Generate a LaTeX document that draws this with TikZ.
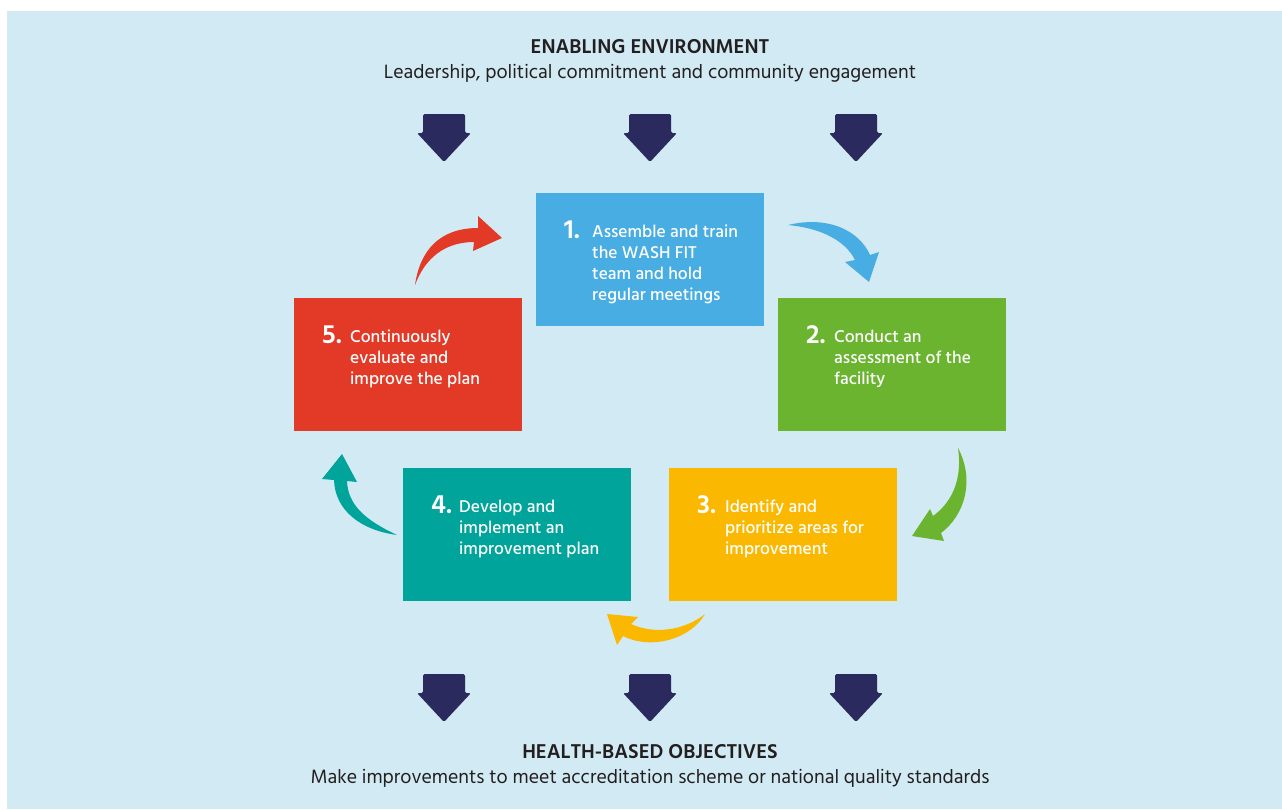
\documentclass[tikz,border=0pt]{standalone}
\usepackage{fontspec}
\setmainfont{Hind Madurai}[UprightFont=* Medium, BoldFont=* SemiBold]
\newfontfamily\plainfont{Hind Madurai}
\newfontfamily\numfont{Hind Madurai}[UprightFont=* SemiBold]
\definecolor{bgc}{HTML}{D2EAF3}
\definecolor{navy}{HTML}{2A2A5F}
\definecolor{txt}{HTML}{231F20}
\definecolor{cblue}{HTML}{48ADE2}
\definecolor{cgreen}{HTML}{6AB42F}
\definecolor{cred}{HTML}{E33A27}
\definecolor{cteal}{HTML}{00A49B}
\definecolor{cyellow}{HTML}{FAB800}
\tikzset{
  stepbox/.style={rectangle, minimum width=228pt, minimum height=133pt, inner sep=0pt, draw=none},
  num/.style={anchor=base west, inner sep=0pt, text=white, font=\numfont\fontsize{27}{27}\selectfont},
  boxtext/.style={anchor=north west, inner sep=0pt, text=white, align=left, font=\fontsize{17.5}{21}\selectfont},
  title/.style={inner sep=0pt, text=txt, font=\bfseries\fontsize{20.5}{22}\selectfont},
  subtitle/.style={inner sep=0pt, text=txt, font=\plainfont\fontsize{19.8}{22}\selectfont},
}
\newcommand{\navyarrow}[3]{% x, top y, name
  \fill[navy, rounded corners=1.5pt] (#1-21,#2) -- (#1+21,#2) -- (#1+21,#2+19) -- (#1+27,#2+19) -- (#1,#2+48) -- (#1-27,#2+19) -- (#1-21,#2+19) -- cycle;
  \coordinate (#3) at (#1,#2);
}
\begin{document}
\begin{tikzpicture}[x=1pt,y=-1pt]
\useasboundingbox (0,0) rectangle (1282,809);
\fill[white] (0,0) rectangle (1282,809);
\fill[bgc] (7,11) rectangle (1282,809);

\node[title] (t1) at (650,47) {ENABLING ENVIRONMENT};
\node[subtitle] (t2) at (650,73) {Leadership, political commitment and community engagement};
\node[title] (b1) at (650,752) {HEALTH-BASED OBJECTIVES};
\node[subtitle] (b2) at (650,778) {Make improvements to meet accreditation scheme or national quality standards};

\navyarrow{444}{114}{ta}
\navyarrow{650}{114}{tb}
\navyarrow{856}{114}{tc}
\navyarrow{444}{674}{ba}
\navyarrow{650}{674}{bb}
\navyarrow{856}{674}{bc}

% boxes
\node[stepbox, fill=cblue, anchor=north west] (s1) at (536,193) {};
\node[stepbox, fill=cgreen, anchor=north west] (s2) at (778,298) {};
\node[stepbox, fill=cyellow, anchor=north west] (s3) at (669,468) {};
\node[stepbox, fill=cteal, anchor=north west] (s4) at (403,468) {};
\node[stepbox, fill=cred, anchor=north west] (s5) at (294,298) {};

\node[num] (n1) at ([xshift=28pt,yshift=-45pt]s1.north west) {1.};
\node[boxtext] (x1) at ([xshift=56pt,yshift=-32pt]s1.north west) {Assemble and train\\the WASH FIT\\team and hold\\regular meetings};
\node[num] (n2) at ([xshift=28pt,yshift=-45pt]s2.north west) {2.};
\node[boxtext] (x2) at ([xshift=56pt,yshift=-32pt]s2.north west) {Conduct an\\assessment of the\\facility};
\node[num] (n3) at ([xshift=28pt,yshift=-45pt]s3.north west) {3.};
\node[boxtext] (x3) at ([xshift=56pt,yshift=-32pt]s3.north west) {Identify and\\prioritize areas for\\improvement};
\node[num] (n4) at ([xshift=28pt,yshift=-45pt]s4.north west) {4.};
\node[boxtext] (x4) at ([xshift=56pt,yshift=-32pt]s4.north west) {Develop and\\implement an\\improvement plan};
\node[num] (n5) at ([xshift=28pt,yshift=-45pt]s5.north west) {5.};
\node[boxtext] (x5) at ([xshift=56pt,yshift=-32pt]s5.north west) {Continuously\\evaluate and\\improve the plan};

% curved arrows
% red: 5 -> 1
\fill[cred] (415,285) .. controls (420,250) and (440,228) .. (478,228)
  -- (478,216) -- (502,238) -- (473,251) -- (474,242)
  .. controls (445,242) and (425,258) .. (415,285) -- cycle;
% blue: 1 -> 2
\fill[cblue] (788,225) .. controls (830,215) and (860,232) .. (870,255)
  -- (879,252) -- (869,282) -- (845,262) -- (855,260)
  .. controls (845,240) and (820,228) .. (788,225) -- cycle;
% green: 2 -> 3
\fill[cgreen] (958,448) .. controls (975,480) and (965,515) .. (941,533)
  -- (944,541) -- (912,536) -- (930,509) -- (933,516)
  .. controls (955,500) and (962,475) .. (958,448) -- cycle;
% yellow: 3 -> 4
\fill[cyellow] (705,614) .. controls (690,640) and (650,650) .. (623,636)
  -- (617,645) -- (607,614) -- (638,617) -- (631,624)
  .. controls (655,635) and (685,630) .. (705,614) -- cycle;
% teal: 4 -> 5
\fill[cteal] (397,535) .. controls (360,530) and (335,510) .. (334,480)
  -- (322,479) -- (342,454) -- (357,482) -- (347,481)
  .. controls (348,505) and (365,520) .. (397,535) -- cycle;
\end{tikzpicture}
\end{document}
